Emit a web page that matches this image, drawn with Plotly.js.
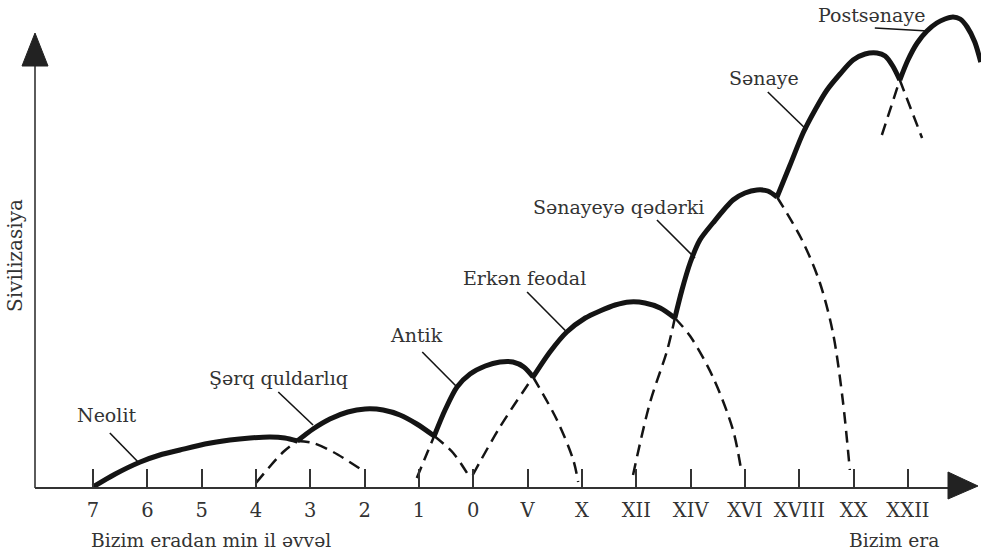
<!DOCTYPE html>
<html>
<head>
<meta charset="utf-8">
<script src="https://cdn.plot.ly/plotly-3.0.1.min.js"></script>
<style>
  html, body { margin: 0; padding: 0; background: #ffffff; }
  #chart { width: 981px; height: 556px; }
</style>
</head>
<body>
<div id="chart"></div>
<script>
// ---- Time axis (tick index 0..15) ----
const eraTickVals = [0, 1, 2, 3, 4, 5, 6, 7, 8, 9, 10, 11, 12, 13, 14, 15];
const eraTickText = ["7", "6", "5", "4", "3", "2", "1", "0", "V", "X", "XII", "XIV", "XVI", "XVIII", "XX", "XXII"];

// ---- Civilization waves: solid part (upper envelope) ----
const neolitX = [0.00, 0.41, 0.87, 1.23, 1.60, 2.06, 2.52, 2.89, 3.26, 3.53, 3.76];
const neolitY = [0.1, 1.4, 2.6, 3.3, 3.8, 4.4, 4.8, 5.0, 5.1, 5.0, 4.7];
const sherqX = [3.76, 4.05, 4.36, 4.69, 5.01, 5.34, 5.65, 5.96, 6.28];
const sherqY = [4.7, 5.9, 6.9, 7.6, 7.9, 7.8, 7.3, 6.4, 5.2];
const antikX = [6.28, 6.48, 6.70, 6.94, 7.22, 7.49, 7.73, 7.93, 8.10];
const antikY = [5.2, 7.8, 10.1, 11.4, 12.2, 12.6, 12.6, 12.1, 11.1];
const feodalX = [8.10, 8.41, 8.72, 9.06, 9.33, 9.61, 9.88, 10.16, 10.44, 10.71];
const feodalY = [11.1, 13.6, 15.6, 17.0, 17.7, 18.3, 18.6, 18.5, 18.0, 17.0];
const preIndX = [10.71, 10.84, 10.99, 11.17, 11.41, 11.78, 12.00, 12.22, 12.42, 12.59];
const preIndY = [17.0, 19.8, 22.5, 24.8, 26.5, 28.8, 29.5, 29.8, 29.7, 29.1];
const indX = [12.59, 12.83, 13.07, 13.29, 13.51, 13.75, 13.99, 14.21, 14.43, 14.58, 14.72, 14.85];
const indY = [29.1, 32.3, 35.5, 37.8, 39.8, 41.4, 42.8, 43.4, 43.5, 43.2, 42.2, 40.8];
const postX = [14.85, 15.00, 15.17, 15.35, 15.53, 15.68, 15.83, 15.96, 16.09, 16.23, 16.34];
const postY = [40.8, 42.8, 44.5, 45.7, 46.5, 46.9, 47.1, 46.9, 46.1, 44.6, 42.6];

// ---- Dashed continuations: rises (before dominance) ----
const sherqRiseX = [3.00, 3.50, 3.76];
const sherqRiseY = [0.5, 3.6, 4.7];
const antikRiseX = [5.96, 6.15, 6.28];
const antikRiseY = [1.0, 3.5, 5.2];
const feodalRiseX = [6.99, 7.49, 8.10];
const feodalRiseY = [1.3, 6.1, 11.1];
const preIndRiseX = [9.94, 10.25, 10.57, 10.71];
const preIndRiseY = [1.3, 8.5, 13.8, 17.0];
const postRiseX = [14.52, 14.85];
const postRiseY = [35.3, 40.8];

// ---- Dashed continuations: declines (after dominance) ----
const neolitFallX = [3.76, 4.05, 4.42, 4.95];
const neolitFallY = [4.7, 4.5, 3.6, 1.8];
const sherqFallX = [6.28, 6.63, 6.94];
const sherqFallY = [5.2, 3.5, 1.0];
const antikFallX = [8.10, 8.54, 8.84, 8.93];
const antikFallY = [11.1, 6.8, 2.8, 0.6];
const feodalFallX = [10.71, 10.99, 11.41, 11.78, 11.93];
const feodalFallY = [17.0, 15.2, 11.1, 5.8, 1.8];
const preIndFallX = [12.59, 13.05, 13.38, 13.62, 13.80, 13.93];
const preIndFallY = [29.1, 24.8, 20.5, 15.5, 8.8, 1.8];
const indFallX = [14.85, 15.26];
const indFallY = [40.8, 35.0];

// ---- Stage labels and leader lines ----
const stageNames = ["Neolit", "Şərq quldarlıq", "Antik", "Erkən feodal", "Sənayeyə qədərki", "Sənaye", "Postsənaye"];
const stageLabelX = [0.24, 3.42, 5.96, 7.95, 9.68, 12.35, 14.32];
const stageLabelY = [7.3, 11.0, 15.3, 21.0, 28.1, 41.0, 47.3];
const leaderFromX = [0.31, 3.41, 6.06, 7.99, 10.38, 12.42, 14.39];
const leaderFromY = [5.5, 9.6, 13.6, 19.6, 26.8, 39.6, 46.0];
const leaderToX = [0.83, 4.05, 6.70, 8.72, 11.08, 13.14, 15.37];
const leaderToY = [2.6, 6.3, 10.1, 15.6, 23.0, 35.8, 45.7];

const INK = "#141414";
const TXT = "#333333";
const FONT = "DejaVu Serif, Liberation Serif, serif";

function solid(x, y) {
  return { x: x, y: y, type: "scatter", mode: "lines", hoverinfo: "skip",
    line: { color: INK, width: 5, shape: "spline", smoothing: 0.8 } };
}
function dashed(x, y) {
  return { x: x, y: y, type: "scatter", mode: "lines", hoverinfo: "skip",
    line: { color: INK, width: 2.5, shape: "spline", smoothing: 0.9, dash: "12px,7px" } };
}

const traces = [
  dashed(sherqRiseX, sherqRiseY), dashed(antikRiseX, antikRiseY), dashed(feodalRiseX, feodalRiseY),
  dashed(preIndRiseX, preIndRiseY), dashed(postRiseX, postRiseY),
  dashed(neolitFallX, neolitFallY), dashed(sherqFallX, sherqFallY), dashed(antikFallX, antikFallY),
  dashed(feodalFallX, feodalFallY), dashed(preIndFallX, preIndFallY), dashed(indFallX, indFallY),
  solid(neolitX, neolitY), solid(sherqX, sherqY), solid(antikX, antikY), solid(feodalX, feodalY),
  solid(preIndX, preIndY), solid(indX, indY), solid(postX, postY)
];

// leader lines as thin line traces
for (let i = 0; i < stageNames.length; i++) {
  traces.push({ x: [leaderFromX[i], leaderToX[i]], y: [leaderFromY[i], leaderToY[i]],
    type: "scatter", mode: "lines", hoverinfo: "skip",
    line: { color: INK, width: 1.6 } });
}

const annotations = stageNames.map((name, i) => ({
  x: stageLabelX[i], y: stageLabelY[i], xref: "x", yref: "y",
  text: name, showarrow: false, xanchor: "center", yanchor: "middle",
  font: { family: FONT, size: 19, color: TXT }
}));
annotations.push(
  { xref: "paper", yref: "paper", x: 211 / 981, y: (488 - 540) / 488, text: "Bizim eradan min il əvvəl",
    showarrow: false, xanchor: "center", yanchor: "middle", font: { family: FONT, size: 18.7, color: TXT } },
  { xref: "paper", yref: "paper", x: 894 / 981, y: (488 - 540) / 488, text: "Bizim era",
    showarrow: false, xanchor: "center", yanchor: "middle", font: { family: FONT, size: 18.7, color: TXT } },
  { xref: "paper", yref: "paper", x: 15 / 981, y: (488 - 256) / 488, text: "Sivilizasiya", textangle: -90,
    showarrow: false, xanchor: "center", yanchor: "middle", font: { family: FONT, size: 20, color: TXT } }
);

function px(x) { return x / 981; }
function py(y) { return (488 - y) / 488; }
const shapes = [
  // y axis
  { type: "line", xref: "paper", yref: "paper", x0: px(35), y0: py(488), x1: px(35), y1: py(60),
    line: { color: "#333", width: 1.6 } },
  { type: "path", xref: "paper", yref: "paper",
    path: "M " + px(35) + " " + py(33) + " L " + px(22) + " " + py(66) + " L " + px(48) + " " + py(66) + " Z",
    fillcolor: "#222", line: { color: "#222", width: 1 } },
  // x axis
  { type: "line", xref: "paper", yref: "paper", x0: px(35), y0: py(488), x1: px(955), y1: py(488),
    line: { color: "#333", width: 2 } },
  { type: "path", xref: "paper", yref: "paper",
    path: "M " + px(978) + " " + py(486) + " L " + px(948) + " " + py(472) + " L " + px(948) + " " + py(499) + " Z",
    fillcolor: "#222", line: { color: "#222", width: 1 } }
];

const layout = {
  width: 981, height: 556,
  margin: { l: 0, r: 0, t: 0, b: 68, pad: 0 },
  paper_bgcolor: "#ffffff", plot_bgcolor: "#ffffff",
  showlegend: false, hovermode: false,
  xaxis: {
    range: [-93 / 54.33, (981 - 93) / 54.33],
    tickvals: eraTickVals, ticktext: eraTickText,
    ticks: "inside", ticklen: 19, tickwidth: 2.2, tickcolor: "#333",
    showgrid: false, zeroline: false, showline: false,
    ticklabelstandoff: 8,
    tickfont: { family: FONT, size: 19.5, color: TXT },
    fixedrange: true
  },
  yaxis: {
    range: [0, 48.8], visible: false, showgrid: false, zeroline: false, fixedrange: true
  },
  annotations: annotations,
  shapes: shapes
};

Plotly.newPlot("chart", traces, layout, { displayModeBar: false, staticPlot: true });
</script>
</body>
</html>
